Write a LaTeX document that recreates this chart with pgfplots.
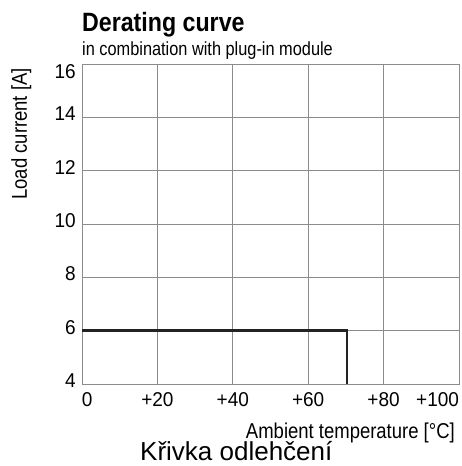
\documentclass[border=0pt]{standalone}
\usepackage{pgfplots}
\pgfplotsset{compat=1.18}
\usepackage{fontspec}
\setmainfont{Liberation Sans}
\newfontfamily\condf{Liberation Sans}[FakeStretch=0.86]
\newfontfamily\tickf{Liberation Sans}[FakeStretch=0.95]
\newfontfamily\titlef{Liberation Sans}[FakeStretch=0.875]
\definecolor{gridgray}{HTML}{8C8C8C}
\definecolor{curve}{HTML}{222222}
\begin{document}
\begin{tikzpicture}
\path[use as bounding box] (-82pt,-82pt) rectangle (379pt,384pt);
\begin{axis}[
  scale only axis,
  width=377pt, height=320pt,
  xmin=0, xmax=100, ymin=4, ymax=16,
  xtick={0,20,40,60,80,100},
  ytick={4,6,8,10,12,14,16},
  xticklabels={\rlap{0},+20,+40,+60,+80,\llap{+100}},
  yticklabels={4,6,8,10,12,14,\smash{\raisebox{-18pt}{16}}},
  major tick length=0pt,
  grid=major,
  major grid style={draw=gridgray, line width=0.8pt},
  axis line style={draw=gridgray, line width=0.9pt},
  xticklabel style={font=\tickf\fontsize{20}{24}\selectfont, anchor=north, inner sep=0pt, yshift=-8pt},
  yticklabel style={font=\tickf\fontsize{20}{24}\selectfont, anchor=east, inner sep=0pt, xshift=-6pt, yshift=3.5pt},
  clip=false,
]
\addplot[draw=curve, line width=2.4pt, line join=miter] coordinates {(0,6) (70.3,6) (70.3,4)};
\end{axis}
\node[anchor=base west, inner sep=0pt, font=\titlef\bfseries\fontsize{26.5}{31}\selectfont] at (0pt,352pt) {Derating curve};
\node[anchor=base west, inner sep=0pt, font=\condf\fontsize{19}{23}\selectfont] at (0pt,328pt) {in combination with plug-in module};
\node[anchor=base east, rotate=90, inner sep=0pt, font=\condf\fontsize{21.5}{26}\selectfont] at (-55pt,316pt) {Load current [A]};
\node[anchor=base east, inner sep=0pt, font=\condf\fontsize{21.5}{26}\selectfont] at (373pt,-54pt) {Ambient temperature [°C]};
\node[anchor=base west, inner sep=0pt, font=\fontsize{26}{31}\selectfont] at (58pt,-76pt) {Křivka odlehčení};
\end{tikzpicture}
\end{document}
